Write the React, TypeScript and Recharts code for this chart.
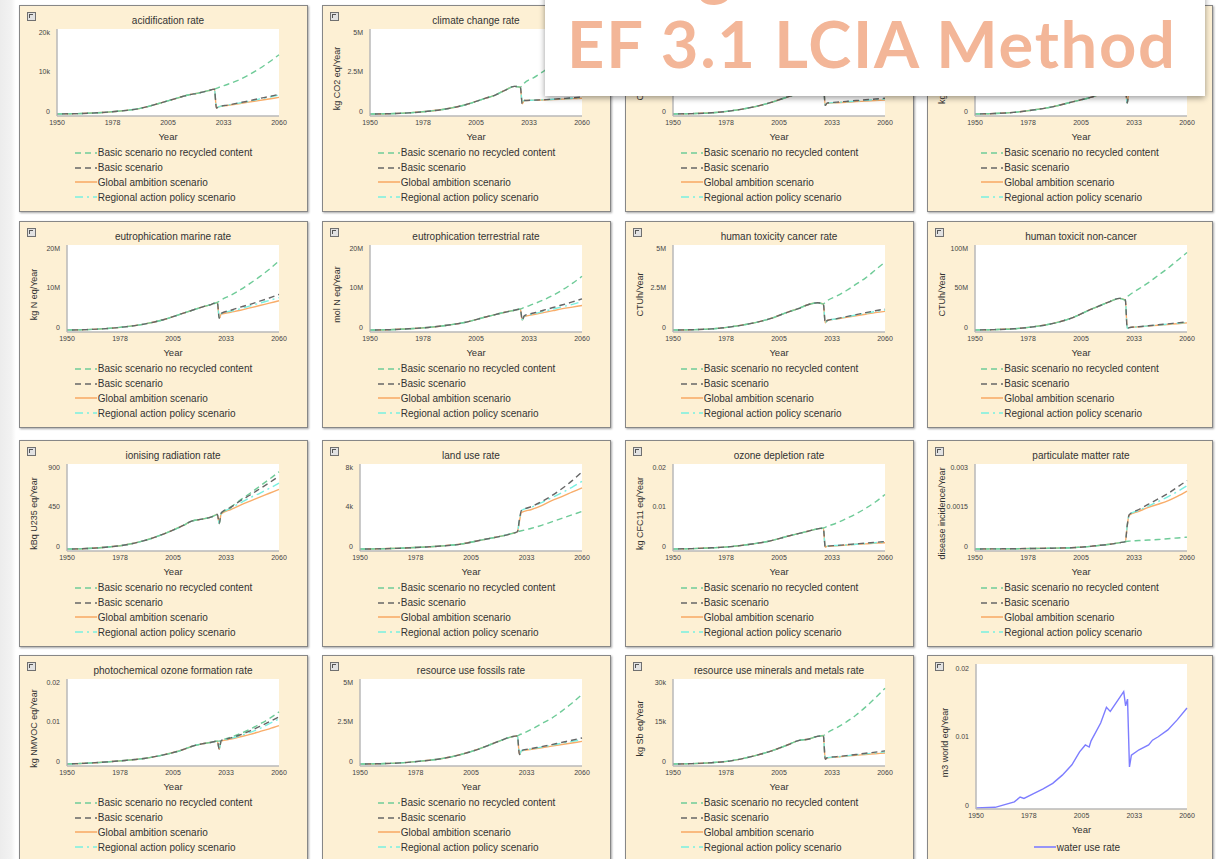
import React from 'react';
import { LineChart, Line, XAxis, YAxis, CartesianGrid, Legend } from 'recharts';

// ---- shared time axes ----
const historyYears = [1950, 1960, 1970, 1980, 1990, 2000, 2010, 2015, 2020, 2025, 2028];
const projectionYears = [2029, 2030, 2035, 2040, 2045, 2050, 2055, 2060];
const yearTicks = [1950, 1977.5, 2005, 2032.5, 2060];

// ---- acidification ----
const acidTicks = [0, 10000, 20000];
const acidTickLabels = ['0', '10k', '20k'];
const acidHistory = [0, 100, 300, 700, 1300, 2600, 4100, 4800, 5300, 5900, 6300];
const acidNoRecycled = [6500, 6700, 7600, 8600, 9900, 11400, 13100, 15000];
const acidBasic = [1500, 1800, 2300, 2800, 3300, 3900, 4400, 5000];
const acidGlobal = [1500, 1800, 2200, 2600, 3000, 3400, 3800, 4200];
const acidRegional = [1500, 1800, 2300, 2750, 3200, 3750, 4250, 4800];

// ---- climate change ----
const climateTicks = [0, 2.5e6, 5e6];
const climateTickLabels = ['0', '2.5M', '5M'];
const climateHistory = [0, 0.02e6, 0.07e6, 0.17e6, 0.33e6, 0.6e6, 1.0e6, 1.2e6, 1.5e6, 1.75e6, 1.7e6];
const climateNoRecycled = [1.8e6, 1.95e6, 2.3e6, 2.7e6, 3.1e6, 3.55e6, 4.05e6, 4.6e6];
const climateBasic = [0.65e6, 0.85e6, 0.88e6, 0.9e6, 0.94e6, 0.98e6, 1.02e6, 1.08e6];
const climateGlobal = [0.65e6, 0.85e6, 0.87e6, 0.89e6, 0.91e6, 0.94e6, 0.97e6, 1.0e6];
const climateRegional = [0.65e6, 0.85e6, 0.88e6, 0.9e6, 0.93e6, 0.96e6, 1.0e6, 1.04e6];

// ---- ecotoxicity freshwater ----
const ecoTicks = [0, 50e6, 100e6];
const ecoTickLabels = ['0', '50M', '100M'];
const ecoHistory = [0, 0.5e6, 1.5e6, 4e6, 8e6, 14e6, 22e6, 26e6, 31e6, 36e6, 38e6];
const ecoNoRecycled = [40e6, 42e6, 49e6, 57e6, 66e6, 76e6, 87e6, 99e6];
const ecoBasic = [11e6, 14e6, 15e6, 16e6, 17e6, 18e6, 19e6, 20e6];
const ecoGlobal = [11e6, 13.5e6, 14.2e6, 14.9e6, 15.6e6, 16.3e6, 17e6, 17.7e6];
const ecoRegional = [11e6, 13.8e6, 14.6e6, 15.5e6, 16.4e6, 17.3e6, 18.2e6, 19e6];

// ---- eutrophication freshwater ----
const eufTicks = [0, 250000, 500000];
const eufTickLabels = ['0', '250k', '500k'];
const eufHistory = [0, 3000, 10000, 25000, 45000, 75000, 105000, 125000, 140000, 150000, 155000];
const eufNoRecycled = [158000, 162000, 185000, 210000, 240000, 275000, 310000, 350000];
const eufBasic = [70000, 160000, 180000, 205000, 230000, 260000, 290000, 325000];
const eufGlobal = [70000, 155000, 170000, 188000, 205000, 225000, 245000, 265000];
const eufRegional = [70000, 158000, 176000, 198000, 220000, 245000, 270000, 300000];

// ---- eutrophication marine ----
const eumTicks = [0, 10e6, 20e6];
const eumTickLabels = ['0', '10M', '20M'];
const eumHistory = [0, 0.1e6, 0.35e6, 0.8e6, 1.5e6, 2.6e6, 4.2e6, 5.0e6, 5.8e6, 6.5e6, 7.0e6];
const eumNoRecycled = [7.3e6, 7.6e6, 8.8e6, 10.2e6, 11.8e6, 13.5e6, 15.4e6, 17.5e6];
const eumBasic = [3.0e6, 4.2e6, 5.0e6, 5.8e6, 6.5e6, 7.3e6, 8.1e6, 9.0e6];
const eumGlobal = [3.0e6, 4.0e6, 4.5e6, 5.0e6, 5.6e6, 6.2e6, 6.8e6, 7.4e6];
const eumRegional = [3.0e6, 4.1e6, 4.8e6, 5.4e6, 6.1e6, 6.8e6, 7.5e6, 8.2e6];

// ---- eutrophication terrestrial ----
const eutTicks = [0, 10e6, 20e6];
const eutTickLabels = ['0', '10M', '20M'];
const eutHistory = [0, 0.08e6, 0.3e6, 0.65e6, 1.2e6, 2.0e6, 3.3e6, 3.9e6, 4.5e6, 5.0e6, 5.3e6];
const eutNoRecycled = [5.5e6, 5.7e6, 6.6e6, 7.6e6, 8.8e6, 10.2e6, 11.8e6, 13.6e6];
const eutBasic = [2.5e6, 3.6e6, 4.3e6, 5.0e6, 5.7e6, 6.4e6, 7.1e6, 7.9e6];
const eutGlobal = [2.5e6, 3.4e6, 3.9e6, 4.4e6, 4.9e6, 5.4e6, 5.8e6, 6.2e6];
const eutRegional = [2.5e6, 3.5e6, 4.1e6, 4.7e6, 5.3e6, 5.9e6, 6.5e6, 7.2e6];

// ---- human toxicity cancer ----
const htcTicks = [0, 2.5e6, 5e6];
const htcTickLabels = ['0', '2.5M', '5M'];
const htcHistory = [0, 0.02e6, 0.07e6, 0.2e6, 0.4e6, 0.7e6, 1.15e6, 1.35e6, 1.6e6, 1.72e6, 1.65e6];
const htcNoRecycled = [1.75e6, 1.85e6, 2.15e6, 2.5e6, 2.9e6, 3.3e6, 3.8e6, 4.3e6];
const htcBasic = [0.45e6, 0.6e6, 0.72e6, 0.85e6, 0.97e6, 1.1e6, 1.22e6, 1.33e6];
const htcGlobal = [0.45e6, 0.6e6, 0.7e6, 0.8e6, 0.9e6, 1.0e6, 1.1e6, 1.18e6];
const htcRegional = [0.45e6, 0.6e6, 0.71e6, 0.83e6, 0.95e6, 1.06e6, 1.17e6, 1.27e6];

// ---- human toxicity non-cancer ----
const htnTicks = [0, 50e6, 100e6];
const htnTickLabels = ['0', '50M', '100M'];
const htnHistory = [0, 0.5e6, 1.5e6, 4e6, 8e6, 15e6, 26e6, 31e6, 36e6, 40e6, 38e6];
const htnNoRecycled = [42e6, 44e6, 52e6, 60e6, 69e6, 78e6, 88e6, 98e6];
const htnBasic = [2e6, 3e6, 4.2e6, 5.4e6, 6.6e6, 7.8e6, 9e6, 10.2e6];
const htnGlobal = [2e6, 3e6, 4e6, 5e6, 6e6, 7e6, 8e6, 9e6];
const htnRegional = [2e6, 3e6, 4.1e6, 5.2e6, 6.3e6, 7.4e6, 8.5e6, 9.6e6];

// ---- ionising radiation ----
const ionTicks = [0, 450, 900];
const ionTickLabels = ['0', '450', '900'];
const ionHistory = [0, 5, 20, 45, 95, 170, 265, 320, 340, 365, 395];
const ionNoRecycled = [405, 415, 480, 560, 635, 715, 795, 880];
const ionBasic = [290, 410, 475, 550, 615, 685, 755, 830];
const ionGlobal = [290, 400, 450, 500, 545, 590, 635, 680];
const ionRegional = [290, 405, 465, 525, 585, 635, 690, 750];

// ---- land use ----
const landTicks = [0, 4000, 8000];
const landTickLabels = ['0', '4k', '8k'];
const landHistory = [0, 20, 80, 180, 300, 500, 900, 1100, 1300, 1550, 1750];
const landNoRecycled = [1800, 1850, 2100, 2400, 2750, 3100, 3450, 3800];
const landBasic = [3000, 3900, 4300, 4800, 5400, 6100, 6900, 7800];
const landGlobal = [2800, 3700, 4000, 4400, 4900, 5300, 5750, 6200];
const landRegional = [3000, 3900, 4250, 4700, 5200, 5700, 6250, 6850];

// ---- ozone depletion ----
const ozoneTicks = [0, 0.01, 0.02];
const ozoneTickLabels = ['0', '0.01', '0.02'];
const ozoneHistory = [0, 0.0001, 0.0003, 0.0006, 0.0012, 0.002, 0.0033, 0.0039, 0.0045, 0.0051, 0.0053];
const ozoneNoRecycled = [0.0055, 0.0057, 0.0066, 0.0077, 0.0089, 0.0103, 0.0119, 0.0138];
const ozoneBasic = [0.0004, 0.0007, 0.0009, 0.0011, 0.0013, 0.0015, 0.0017, 0.0019];
const ozoneGlobal = [0.0004, 0.0007, 0.0008, 0.001, 0.0012, 0.0013, 0.0015, 0.0016];
const ozoneRegional = [0.0004, 0.0007, 0.0009, 0.001, 0.0012, 0.0014, 0.0016, 0.0018];

// ---- particulate matter ----
const pmTicks = [0, 0.0015, 0.003];
const pmTickLabels = ['0', '0.0015', '0.003'];
const pmHistory = [0, 0.000005, 0.00001, 0.00002, 0.00003, 0.00005, 0.0001, 0.00014, 0.00018, 0.00024, 0.00028];
const pmNoRecycled = [0.00029, 0.0003, 0.00032, 0.00034, 0.00036, 0.00039, 0.00042, 0.00045];
const pmBasic = [0.0009, 0.0013, 0.0015, 0.0017, 0.0019, 0.0021, 0.00235, 0.0026];
const pmGlobal = [0.0009, 0.00128, 0.00143, 0.00158, 0.0017, 0.00183, 0.002, 0.0022];
const pmRegional = [0.0009, 0.0013, 0.00147, 0.00163, 0.0018, 0.00198, 0.00218, 0.0024];

// ---- photochemical ozone formation ----
const pofTicks = [0, 0.01, 0.02];
const pofTickLabels = ['0', '0.01', '0.02'];
const pofHistory = [0, 0.0002, 0.0005, 0.0009, 0.0014, 0.0023, 0.0036, 0.0045, 0.0051, 0.0055, 0.0058];
const pofNoRecycled = [0.0058, 0.006, 0.0068, 0.0077, 0.0088, 0.0101, 0.0115, 0.0132];
const pofBasic = [0.0038, 0.0059, 0.0066, 0.0074, 0.0084, 0.0095, 0.0107, 0.0119];
const pofGlobal = [0.0038, 0.0058, 0.0063, 0.0069, 0.0075, 0.0082, 0.0089, 0.0097];
const pofRegional = [0.0038, 0.0059, 0.0065, 0.0072, 0.008, 0.009, 0.0102, 0.0114];

// ---- resource use fossils ----
const fosTicks = [0, 2.5e6, 5e6];
const fosTickLabels = ['0', '2.5M', '5M'];
const fosHistory = [0, 0.02e6, 0.07e6, 0.18e6, 0.33e6, 0.6e6, 1.0e6, 1.25e6, 1.5e6, 1.72e6, 1.78e6];
const fosNoRecycled = [1.85e6, 1.9e6, 2.2e6, 2.55e6, 2.9e6, 3.35e6, 3.85e6, 4.4e6];
const fosBasic = [0.6e6, 0.85e6, 0.98e6, 1.1e6, 1.23e6, 1.37e6, 1.5e6, 1.65e6];
const fosGlobal = [0.6e6, 0.83e6, 0.93e6, 1.03e6, 1.13e6, 1.23e6, 1.33e6, 1.43e6];
const fosRegional = [0.6e6, 0.84e6, 0.96e6, 1.07e6, 1.19e6, 1.31e6, 1.43e6, 1.55e6];

// ---- resource use minerals and metals ----
const minTicks = [0, 15000, 30000];
const minTickLabels = ['0', '15k', '30k'];
const minHistory = [0, 150, 500, 1200, 2700, 4700, 7400, 8900, 9400, 10500, 10800];
const minNoRecycled = [11200, 11800, 13800, 16000, 18600, 21700, 25100, 28800];
const minBasic = [1800, 2400, 2800, 3200, 3600, 4100, 4500, 5000];
const minGlobal = [1800, 2300, 2600, 3000, 3300, 3600, 3900, 4200];
const minRegional = [1800, 2350, 2700, 3100, 3500, 3900, 4200, 4600];

// ---- water use ----
const waterTicks = [0, 0.01, 0.02];
const waterTickLabels = ['0', '0.01', '0.02'];
const waterYears = [1950, 1960, 1970, 1973, 1975, 1980, 1985, 1990, 1995, 2000, 2004, 2007, 2009, 2010, 2015, 2018, 2020, 2027, 2028, 2029, 2030, 2031, 2035, 2040, 2042, 2045, 2050, 2055, 2060];
const waterUse = [0, 0.0001, 0.0009, 0.0016, 0.0014, 0.0021, 0.0028, 0.0036, 0.0048, 0.0063, 0.0082, 0.0092, 0.0089, 0.0098, 0.0124, 0.0147, 0.0141, 0.017, 0.0149, 0.0159, 0.006, 0.0077, 0.0085, 0.0092, 0.0099, 0.0104, 0.0114, 0.0129, 0.0146];

// ---- styling ----
const FONT = '"Liberation Sans", Arial, Helvetica, sans-serif';
const TEXT = '#333333';
const CREAM = '#fdf0d4';
const AXIS = '#b9b9b9';
const PLOT_RIGHT = 260;
const colLefts = [19, 322, 625, 927];
const colWidths = [289, 289, 289, 286];
const rowTops = [5, 221, 440, 655];

type Scenario = { key: string; name: string; color: string; dash?: string; dashOffset?: number };
const scenarios: Scenario[] = [
  { key: 'noRecycled', name: 'Basic scenario no recycled content', color: '#6fcb98', dash: '6 4' },
  { key: 'basic', name: 'Basic scenario', color: '#666666', dash: '6 4', dashOffset: 5 },
  { key: 'global', name: 'Global ambition scenario', color: '#f8ad6a' },
  { key: 'regional', name: 'Regional action policy scenario', color: '#78efe0', dash: '8 4 2 4' },
];
const drawOrder = ['global', 'regional', 'noRecycled', 'basic'];

type Panel = {
  title: string;
  unit: string;
  ticks: number[];
  tickLabels: string[];
  history: number[];
  noRecycled: number[];
  basic: number[];
  global: number[];
  regional: number[];
};

const panels: Panel[] = [
  { title: 'acidification rate', unit: '', ticks: acidTicks, tickLabels: acidTickLabels, history: acidHistory, noRecycled: acidNoRecycled, basic: acidBasic, global: acidGlobal, regional: acidRegional },
  { title: 'climate change rate', unit: 'kg CO2 eq/Year', ticks: climateTicks, tickLabels: climateTickLabels, history: climateHistory, noRecycled: climateNoRecycled, basic: climateBasic, global: climateGlobal, regional: climateRegional },
  { title: 'ecotoxicity freshwater rate', unit: 'CTUe/Year', ticks: ecoTicks, tickLabels: ecoTickLabels, history: ecoHistory, noRecycled: ecoNoRecycled, basic: ecoBasic, global: ecoGlobal, regional: ecoRegional },
  { title: 'eutrophication freshwater rate', unit: 'kg P eq/Year', ticks: eufTicks, tickLabels: eufTickLabels, history: eufHistory, noRecycled: eufNoRecycled, basic: eufBasic, global: eufGlobal, regional: eufRegional },
  { title: 'eutrophication marine rate', unit: 'kg N eq/Year', ticks: eumTicks, tickLabels: eumTickLabels, history: eumHistory, noRecycled: eumNoRecycled, basic: eumBasic, global: eumGlobal, regional: eumRegional },
  { title: 'eutrophication terrestrial rate', unit: 'mol N eq/Year', ticks: eutTicks, tickLabels: eutTickLabels, history: eutHistory, noRecycled: eutNoRecycled, basic: eutBasic, global: eutGlobal, regional: eutRegional },
  { title: 'human toxicity cancer rate', unit: 'CTUh/Year', ticks: htcTicks, tickLabels: htcTickLabels, history: htcHistory, noRecycled: htcNoRecycled, basic: htcBasic, global: htcGlobal, regional: htcRegional },
  { title: 'human toxicit non-cancer', unit: 'CTUh/Year', ticks: htnTicks, tickLabels: htnTickLabels, history: htnHistory, noRecycled: htnNoRecycled, basic: htnBasic, global: htnGlobal, regional: htnRegional },
  { title: 'ionising radiation rate', unit: 'kBq U235 eq/Year', ticks: ionTicks, tickLabels: ionTickLabels, history: ionHistory, noRecycled: ionNoRecycled, basic: ionBasic, global: ionGlobal, regional: ionRegional },
  { title: 'land use rate', unit: '', ticks: landTicks, tickLabels: landTickLabels, history: landHistory, noRecycled: landNoRecycled, basic: landBasic, global: landGlobal, regional: landRegional },
  { title: 'ozone depletion rate', unit: 'kg CFC11 eq/Year', ticks: ozoneTicks, tickLabels: ozoneTickLabels, history: ozoneHistory, noRecycled: ozoneNoRecycled, basic: ozoneBasic, global: ozoneGlobal, regional: ozoneRegional },
  { title: 'particulate matter rate', unit: 'disease incidence/Year', ticks: pmTicks, tickLabels: pmTickLabels, history: pmHistory, noRecycled: pmNoRecycled, basic: pmBasic, global: pmGlobal, regional: pmRegional },
  { title: 'photochemical ozone formation rate', unit: 'kg NMVOC eq/Year', ticks: pofTicks, tickLabels: pofTickLabels, history: pofHistory, noRecycled: pofNoRecycled, basic: pofBasic, global: pofGlobal, regional: pofRegional },
  { title: 'resource use fossils rate', unit: '', ticks: fosTicks, tickLabels: fosTickLabels, history: fosHistory, noRecycled: fosNoRecycled, basic: fosBasic, global: fosGlobal, regional: fosRegional },
  { title: 'resource use minerals and metals rate', unit: 'kg Sb eq/Year', ticks: minTicks, tickLabels: minTickLabels, history: minHistory, noRecycled: minNoRecycled, basic: minBasic, global: minGlobal, regional: minRegional },
];

function buildRows(p: Panel) {
  const rows: Record<string, number>[] = historyYears.map((year, i) => ({
    year,
    noRecycled: p.history[i],
    basic: p.history[i],
    global: p.history[i],
    regional: p.history[i],
  }));
  projectionYears.forEach((year, i) => {
    rows.push({ year, noRecycled: p.noRecycled[i], basic: p.basic[i], global: p.global[i], regional: p.regional[i] });
  });
  return rows;
}

const panelFrame: React.CSSProperties = {
  position: 'absolute',
  height: 207,
  boxSizing: 'border-box',
  background: CREAM,
  border: '1px solid #878787',
  boxShadow: '1px 1px 2px rgba(0,0,0,0.35)',
  fontFamily: FONT,
  color: TEXT,
};

const PanelIcon = () => (
  <div style={{ position: 'absolute', left: 7, top: 6, width: 9, height: 9, border: '1px solid #707070', background: '#e2e2e2', boxSizing: 'border-box' }}>
    <div style={{ position: 'absolute', left: 1, top: 1, width: 3, height: 3, borderTop: '1px solid #555', borderLeft: '1px solid #555' }} />
  </div>
);

const makeYTick = (ticks: number[], labels: string[]) => (props: any) => {
  const { x, y, payload } = props;
  const i = ticks.indexOf(payload.value);
  return (
    <text x={x} y={y - 3} textAnchor="end" dominantBaseline="central" fontSize={7} fill="#444" fontFamily={FONT}>
      {labels[i]}
    </text>
  );
};

const renderXTick = (props: any) => {
  const { x, y, payload } = props;
  return (
    <text x={x} y={y} textAnchor="middle" dominantBaseline="hanging" fontSize={7} fill="#444" fontFamily={FONT}>
      {Math.round(payload.value)}
    </text>
  );
};

const YearLabel = (props: any) => {
  const vb = props.viewBox || { x: 0, y: 0, width: 0 };
  return (
    <text x={vb.x + vb.width / 2} y={vb.y + 20} textAnchor="middle" dominantBaseline="central" fontSize={9.5} fill={TEXT} fontFamily={FONT}>
      Year
    </text>
  );
};

const UnitLabel = (props: any) => {
  const vb = props.viewBox || { y: 0, height: 0 };
  const cx = props.cx as number;
  const cy = vb.y + vb.height / 2 + 6;
  return (
    <text x={cx} y={cy} transform={`rotate(-90 ${cx} ${cy})`} textAnchor="middle" dominantBaseline="central" fontSize={9} fill={TEXT} fontFamily={FONT}>
      {props.text}
    </text>
  );
};

const ScenarioLegend = () => (
  <div style={{ display: 'flex', justifyContent: 'center' }}>
    <div style={{ fontFamily: FONT, fontSize: 10, color: TEXT }}>
      {scenarios.map((s) => (
        <div key={s.key} style={{ display: 'flex', alignItems: 'center', height: 14.7, whiteSpace: 'nowrap' }}>
          <svg width={22} height={6} style={{ display: 'block', marginRight: 1 }}>
            <line x1={0} y1={3} x2={22} y2={3} stroke={s.color} strokeWidth={1.6} strokeDasharray={s.dash} />
          </svg>
          <span>{s.name}</span>
        </div>
      ))}
    </div>
  </div>
);

const WaterLegend = () => (
  <div style={{ display: 'flex', justifyContent: 'center' }}>
    <div style={{ display: 'flex', alignItems: 'center', height: 14, whiteSpace: 'nowrap', fontFamily: FONT, fontSize: 10, color: TEXT }}>
      <svg width={22} height={6} style={{ display: 'block', marginRight: 1 }}>
        <line x1={0} y1={3} x2={22} y2={3} stroke="#7d7dff" strokeWidth={1.6} />
      </svg>
      <span>water use rate</span>
    </div>
  </div>
);

function ScenarioPanel({ panel, left, top, width }: { panel: Panel; left: number; top: number; width: number }) {
  const axisWidth = panel.unit ? 48 : 38;
  const rows = buildRows(panel);
  const max = panel.ticks[panel.ticks.length - 1];
  return (
    <div style={{ ...panelFrame, left, top, width }}>
      <PanelIcon />
      <div
        style={{
          position: 'absolute',
          left: axisWidth - 1,
          width: PLOT_RIGHT - axisWidth,
          top: 9,
          textAlign: 'center',
          fontSize: 10,
          lineHeight: '12px',
          whiteSpace: 'nowrap',
        }}
      >
        {panel.title}
      </div>
      <div style={{ position: 'absolute', left: -1, top: -1 }}>
        <LineChart width={width} height={207} data={rows} margin={{ top: 24, right: width - PLOT_RIGHT, bottom: 80, left: 0 }}>
          <CartesianGrid fill="#ffffff" horizontal={false} vertical={false} />
          <XAxis
            dataKey="year"
            type="number"
            domain={[1950, 2060]}
            ticks={yearTicks}
            interval={0}
            height={16}
            tickSize={2}
            tickMargin={2}
            tickLine={false}
            axisLine={{ stroke: AXIS, strokeWidth: 1.5 }}
            tick={renderXTick}
            label={<YearLabel />}
          />
          <YAxis
            type="number"
            domain={[0, max]}
            ticks={panel.ticks}
            interval={0}
            width={axisWidth}
            tickSize={4}
            tickMargin={3}
            tickLine={false}
            padding={{ top: 6, bottom: 2 }}
            axisLine={{ stroke: AXIS, strokeWidth: 1.5 }}
            tick={makeYTick(panel.ticks, panel.tickLabels)}
            label={panel.unit ? <UnitLabel text={panel.unit} cx={15} /> : undefined}
          />
          {drawOrder.map((key) => {
            const s = scenarios.find((sc) => sc.key === key)!;
            return (
              <Line
                key={key}
                type="monotone"
                dataKey={key}
                name={s.name}
                stroke={s.color}
                strokeWidth={1.4}
                strokeDasharray={s.dash}
                strokeDashoffset={s.dashOffset}
                dot={false}
                activeDot={false}
                isAnimationActive={false}
              />
            );
          })}
          <Legend
            layout="horizontal"
            verticalAlign="middle"
            align="center"
            wrapperStyle={{ left: 0, top: 140.6, width, height: 60 }}
            content={() => <ScenarioLegend />}
          />
        </LineChart>
      </div>
    </div>
  );
}

function WaterPanel({ left, top, width }: { left: number; top: number; width: number }) {
  const rows = waterYears.map((year, i) => ({ year, water: waterUse[i] }));
  return (
    <div style={{ ...panelFrame, left, top, width }}>
      <PanelIcon />
      <div style={{ position: 'absolute', left: -1, top: -1 }}>
        <LineChart width={width} height={207} data={rows} margin={{ top: 9, right: width - PLOT_RIGHT, bottom: 37, left: 0 }}>
          <CartesianGrid fill="#ffffff" horizontal={false} vertical={false} />
          <XAxis
            dataKey="year"
            type="number"
            domain={[1950, 2060]}
            ticks={yearTicks}
            interval={0}
            height={16}
            tickSize={2}
            tickMargin={2}
            tickLine={false}
            axisLine={{ stroke: AXIS, strokeWidth: 1.5 }}
            tick={renderXTick}
            label={<YearLabel />}
          />
          <YAxis
            type="number"
            domain={[0, 0.02]}
            ticks={waterTicks}
            interval={0}
            width={49}
            tickSize={4}
            tickMargin={3}
            tickLine={false}
            padding={{ top: 7, bottom: 1 }}
            axisLine={{ stroke: AXIS, strokeWidth: 1.5 }}
            tick={makeYTick(waterTicks, waterTickLabels)}
            label={<UnitLabel text="m3 world eq/Year" cx={18} />}
          />
          <Line
            type="linear"
            dataKey="water"
            name="water use rate"
            stroke="#7d7dff"
            strokeWidth={1.4}
            dot={false}
            activeDot={false}
            isAnimationActive={false}
          />
          <Legend
            layout="horizontal"
            verticalAlign="middle"
            align="center"
            wrapperStyle={{ left: 0, top: 185, width: 300, height: 14 }}
            content={() => <WaterLegend />}
          />
        </LineChart>
      </div>
    </div>
  );
}

const HEADING = '#f3b698';

function Heading() {
  return (
    <div
      style={{
        position: 'absolute',
        left: 545,
        top: -10,
        width: 660,
        height: 106,
        background: '#ffffff',
        boxShadow: '0 2px 6px rgba(0,0,0,0.4)',
      }}
    >
      <svg width={660} height={106} style={{ display: 'block' }}>
        <text x={22} y={2} fontFamily="Lato, 'Open Sans', sans-serif" fontWeight={700} fontSize={66} fill={HEADING}>
          Using
        </text>
        <text
          x={22}
          y={78}
          fontFamily="Lato, 'Open Sans', sans-serif"
          fontWeight={700}
          fontSize={65}
          fill={HEADING}
          textLength={608}
          lengthAdjust="spacing"
        >
          EF 3.1 LCIA Method
        </text>
      </svg>
    </div>
  );
}

export default function App() {
  return (
    <div style={{ position: 'absolute', left: 0, top: 0, width: 1218, height: 859, overflow: 'hidden', background: '#ffffff' }}>
      <div
        style={{
          position: 'absolute',
          left: 0,
          top: 0,
          width: 16,
          height: 859,
          background: 'linear-gradient(to right, #ececec 0%, #f2f2f2 70%, #ffffff 100%)',
        }}
      />
      {panels.map((p, i) => (
        <ScenarioPanel key={p.title} panel={p} left={colLefts[i % 4]} top={rowTops[Math.floor(i / 4)]} width={colWidths[i % 4]} />
      ))}
      <WaterPanel left={colLefts[3]} top={rowTops[3]} width={colWidths[3]} />
      <Heading />
    </div>
  );
}
